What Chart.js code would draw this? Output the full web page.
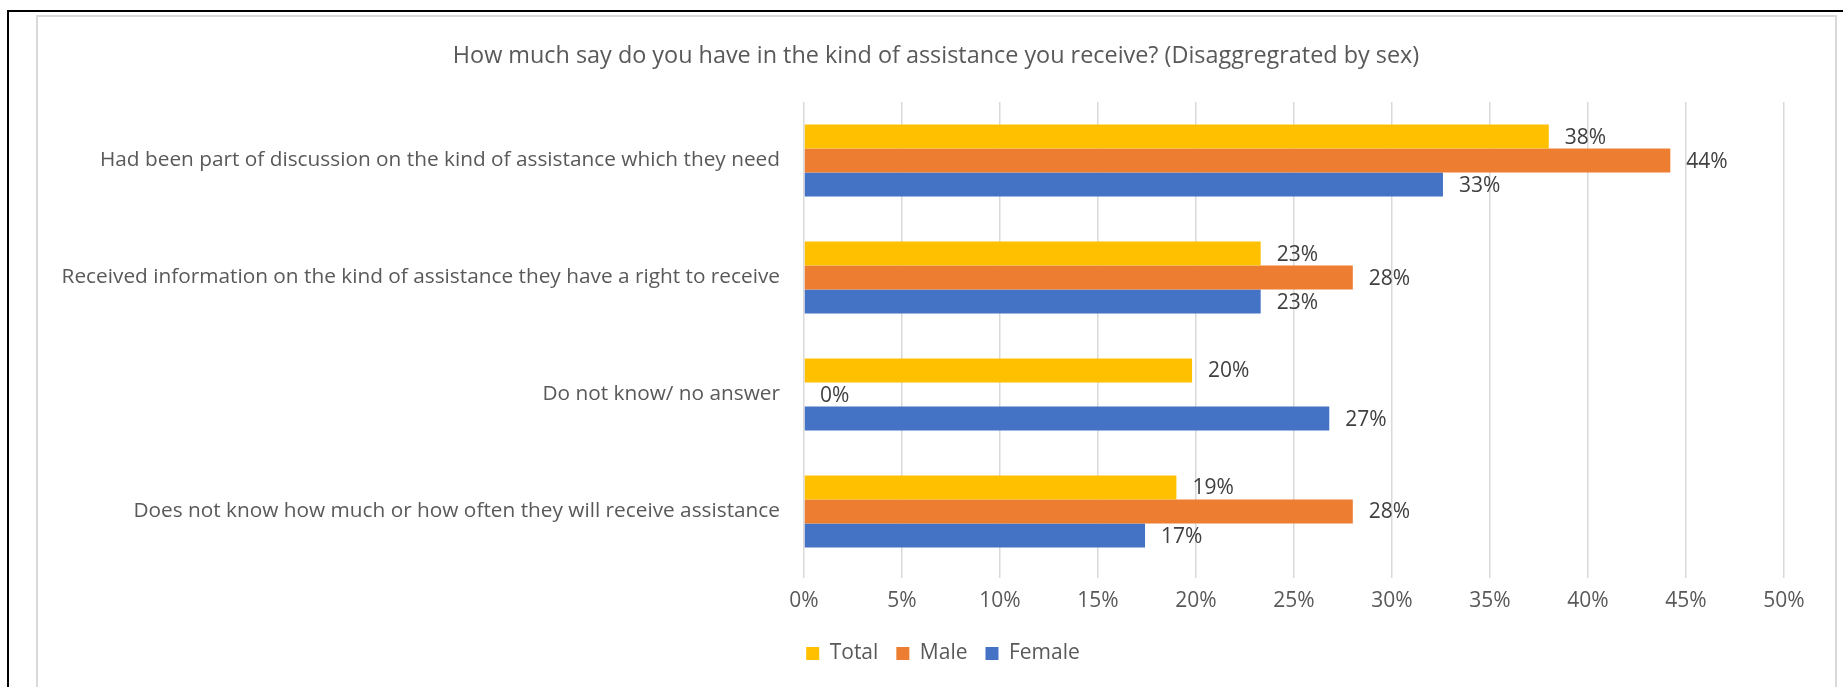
<!DOCTYPE html>
<html>
<head>
<meta charset="utf-8">
<script src="https://cdn.jsdelivr.net/npm/chart.js@4.4.1/dist/chart.umd.min.js"></script>
<style>
  html, body { margin: 0; padding: 0; background: #fff; }
  #wrap { position: relative; width: 1843px; height: 687px; overflow: hidden; }
  .frame-black { position: absolute; left: 7px; top: 10px; width: 1834px; height: 700px;
    border-top: 2px solid #000; border-left: 2px solid #000; border-right: 2px solid #000; }
  .frame-grey { position: absolute; left: 36px; top: 15px; width: 1797px; height: 700px;
    border: 2px solid #d9d9d9; }
  canvas { position: absolute; left: 0; top: 0; }
</style>
</head>
<body>
<div id="wrap">
  <div class="frame-black"></div>
  <div class="frame-grey"></div>
  <canvas id="mainChart" width="1843" height="687"></canvas>
</div>
<script>
const categories = [
  'Had been part of discussion on the kind of assistance which they need',
  'Received information on the kind of assistance they have a right to receive',
  'Do not know/ no answer',
  'Does not know how much or how often they will receive assistance'
];
const totalValues = [0.38, 0.233, 0.198, 0.19];
const maleValues = [0.442, 0.28, 0, 0.28];
const femaleValues = [0.326, 0.233, 0.268, 0.174];
const xTicks = [0, 0.05, 0.1, 0.15, 0.2, 0.25, 0.3, 0.35, 0.4, 0.45, 0.5];

const FONT = '"Open Sans", sans-serif';
const TEXT = '#595959';

const pct = v => Math.round(v * 100) + '%';

// value labels just past the end of each bar
const barLabels = {
  id: 'barLabels',
  afterDatasetsDraw(chart) {
    const ctx = chart.ctx;
    ctx.save();
    ctx.font = '21px ' + FONT;
    ctx.fillStyle = '#404040';
    ctx.textAlign = 'left';
    ctx.textBaseline = 'middle';
    chart.data.datasets.forEach((ds, i) => {
      chart.getDatasetMeta(i).data.forEach((bar, j) => {
        ctx.fillText(pct(ds.data[j]), bar.x + 16, bar.y + 1);
      });
    });
    ctx.restore();
  }
};

// title and legend are centred on the whole frame, not only the left part
const centreBlocks = {
  id: 'centreBlocks',
  afterLayout(chart) {
    chart.titleBlock.left = 88;
    chart.legend.left = 102;
  }
};

new Chart(document.getElementById('mainChart'), {
  type: 'bar',
  data: {
    labels: categories,
    datasets: [
      { label: 'Total', data: totalValues, backgroundColor: '#FFC000' },
      { label: 'Male', data: maleValues, backgroundColor: '#ED7D31' },
      { label: 'Female', data: femaleValues, backgroundColor: '#4472C4' }
    ]
  },
  options: {
    indexAxis: 'y',
    responsive: false,
    animation: false,
    layout: { padding: { left: 0, right: 59, top: 0, bottom: 13 } },
    datasets: {
      bar: {
        categoryPercentage: 0.616,
        barPercentage: 1.0,
        borderWidth: 0
      }
    },
    plugins: {
      title: {
        display: true,
        text: 'How much say do you have in the kind of assistance you receive? (Disaggregrated by sex)',
        color: TEXT,
        font: { family: FONT, size: 23.4, weight: 'normal' },
        padding: { top: 42, bottom: 32 }
      },
      legend: {
        position: 'bottom',
        labels: {
          color: TEXT,
          font: { family: FONT, size: 21 },
          boxWidth: 13,
          boxHeight: 13,
          padding: 18
        }
      },
      tooltip: { enabled: false }
    },
    scales: {
      x: {
        min: 0,
        max: 0.5,
        afterBuildTicks: s => { s.ticks = xTicks.map(v => ({ value: v })); },
        afterFit: s => { s.height = 55; },
        ticks: {
          color: TEXT,
          font: { family: FONT, size: 21 },
          padding: 10,
          callback: v => pct(v)
        },
        grid: { color: '#d9d9d9', lineWidth: 1.5, drawTicks: true, tickLength: 8 },
        border: { display: false }
      },
      y: {
        afterFit: s => { s.width = 804; },
        ticks: {
          color: TEXT,
          font: { family: FONT, size: 20.8 },
          padding: 24
        },
        grid: { display: false, drawTicks: false },
        border: { display: false }
      }
    }
  },
  plugins: [barLabels, centreBlocks]
});
</script>
</body>
</html>
